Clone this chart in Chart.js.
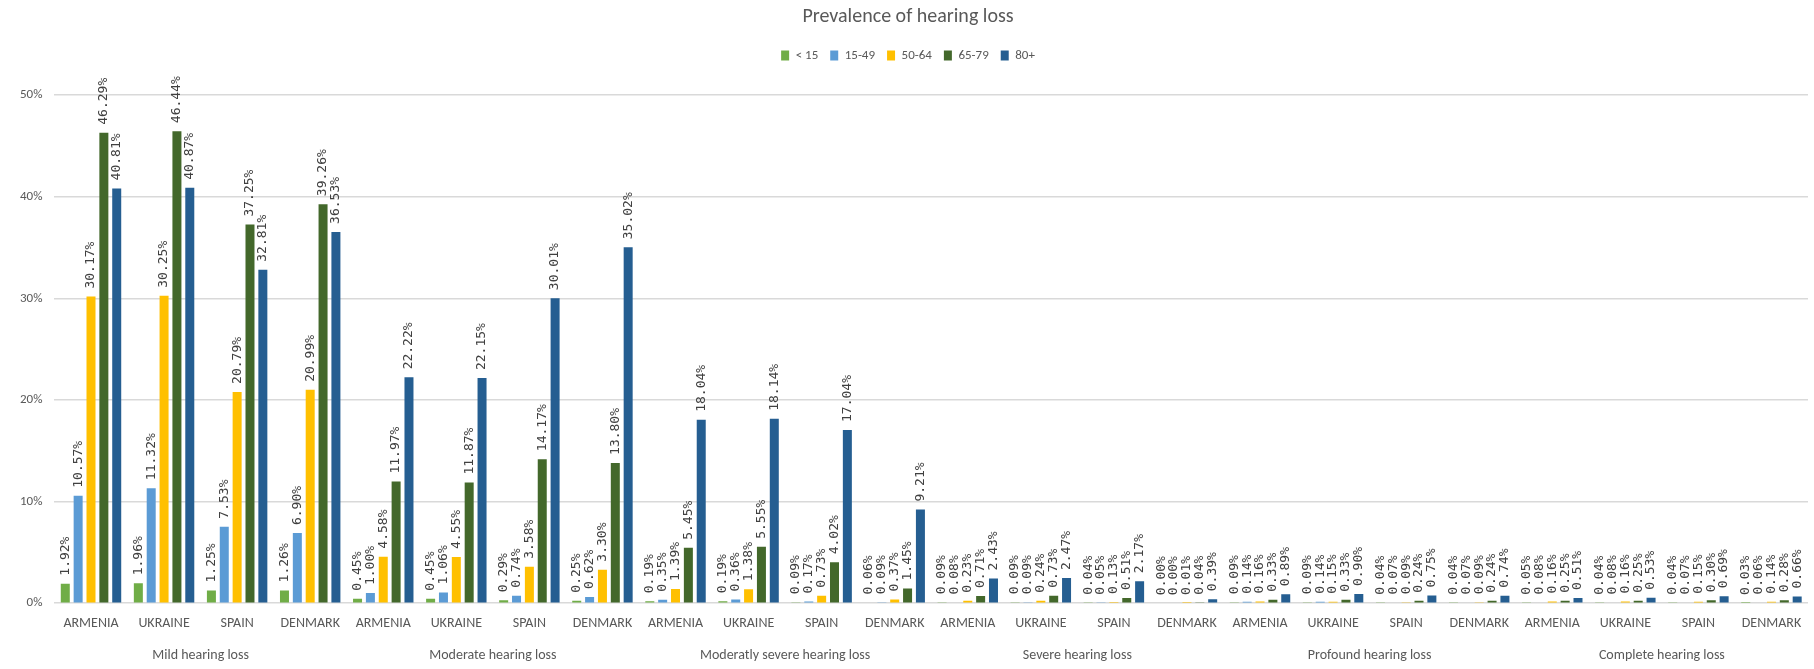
<!DOCTYPE html>
<html>
<head>
<meta charset="utf-8">
<title>Prevalence of hearing loss</title>
<script src="https://cdn.jsdelivr.net/npm/chart.js@4"></script>
<style>
  body { margin: 0; background: #fff; }
  #wrap { width: 1814px; height: 669px; position: relative; }
</style>
</head>
<body>
<div id="wrap"><canvas id="hearingChart"></canvas></div>
<script>
// categories
const countries = ['ARMENIA', 'UKRAINE', 'SPAIN', 'DENMARK'];
const lossGroups = ['Mild hearing loss', 'Moderate hearing loss', 'Moderatly severe hearing loss',
  'Severe hearing loss', 'Profound hearing loss', 'Complete hearing loss'];
const ageGroups = ['< 15', '15-49', '50-64', '65-79', '80+'];
const yTicks = [0, 10, 20, 30, 40, 50];

// values per age group, 24 each (group by group, Armenia/Ukraine/Spain/Denmark)
const under15 = [1.92, 1.96, 1.25, 1.26, 0.45, 0.45, 0.29, 0.25, 0.19, 0.19, 0.09, 0.06,
  0.09, 0.09, 0.04, 0.00, 0.09, 0.09, 0.04, 0.04, 0.05, 0.04, 0.04, 0.03];
const age15to49 = [10.57, 11.32, 7.53, 6.90, 1.00, 1.06, 0.74, 0.62, 0.35, 0.36, 0.17, 0.09,
  0.08, 0.09, 0.05, 0.00, 0.14, 0.14, 0.07, 0.07, 0.08, 0.08, 0.07, 0.06];
const age50to64 = [30.17, 30.25, 20.79, 20.99, 4.58, 4.55, 3.58, 3.30, 1.39, 1.38, 0.73, 0.37,
  0.23, 0.24, 0.13, 0.01, 0.16, 0.15, 0.09, 0.09, 0.16, 0.16, 0.15, 0.14];
const age65to79 = [46.29, 46.44, 37.25, 39.26, 11.97, 11.87, 14.17, 13.80, 5.45, 5.55, 4.02, 1.45,
  0.71, 0.73, 0.51, 0.04, 0.33, 0.33, 0.24, 0.24, 0.25, 0.25, 0.30, 0.28];
const age80plus = [40.81, 40.87, 32.81, 36.53, 22.22, 22.15, 30.01, 35.02, 18.04, 18.14, 17.04, 9.21,
  2.43, 2.47, 2.17, 0.39, 0.89, 0.90, 0.75, 0.74, 0.51, 0.53, 0.69, 0.66];

const seriesValues = [under15, age15to49, age50to64, age65to79, age80plus];
const seriesColors = ['#70AD47', '#5B9BD5', '#FFC000', '#43682B', '#255E91'];

const xLabels = [];
lossGroups.forEach(() => countries.forEach(c => xLabels.push(c)));

const labelFont = 'Carlito, "Liberation Sans Narrow", "Liberation Sans", sans-serif';

// value labels above each bar, rotated
const barLabels = {
  id: 'barLabels',
  afterDatasetsDraw(chart) {
    const ctx = chart.ctx;
    ctx.save();
    ctx.font = '13px "DejaVu Sans Mono", monospace';
    ctx.fillStyle = '#404040';
    ctx.textAlign = 'left';
    ctx.textBaseline = 'middle';
    chart.data.datasets.forEach((ds, i) => {
      chart.getDatasetMeta(i).data.forEach((bar, j) => {
        ctx.save();
        ctx.translate(bar.x, bar.y - 8);
        ctx.rotate(-Math.PI / 2);
        ctx.fillText(ds.data[j].toFixed(2) + '%', 0, 0);
        ctx.restore();
      });
    });
    ctx.restore();
  }
};

// second row of x labels: one per hearing-loss group, centred under its 4 countries
const groupLabels = {
  id: 'groupLabels',
  afterDraw(chart) {
    const x = chart.scales.x;
    const ctx = chart.ctx;
    const n = countries.length;
    ctx.save();
    ctx.font = '14px ' + labelFont;
    ctx.fillStyle = '#595959';
    ctx.textAlign = 'center';
    ctx.textBaseline = 'middle';
    lossGroups.forEach((g, k) => {
      const left = x.getPixelForTick(k * n);
      const right = x.getPixelForTick(k * n + n - 1);
      ctx.fillText(g, (left + right) / 2, chart.chartArea.bottom + 52);
    });
    ctx.restore();
  }
};

// a bit more room under the legend
const legendGap = {
  id: 'legendGap',
  beforeInit(chart) {
    const fit = chart.legend.fit;
    chart.legend.fit = function () {
      fit.bind(this)();
      this.height += 23;
    };
  }
};

const ctx = document.getElementById('hearingChart').getContext('2d');
new Chart(ctx, {
  type: 'bar',
  data: {
    labels: xLabels,
    datasets: ageGroups.map((name, i) => ({
      label: name,
      data: seriesValues[i],
      backgroundColor: seriesColors[i],
      categoryPercentage: 0.88,
      barPercentage: 0.7
    }))
  },
  options: {
    responsive: true,
    maintainAspectRatio: false,
    animation: false,
    layout: { padding: { left: 8, right: 6, top: 0, bottom: 25 } },
    plugins: {
      title: {
        display: true,
        text: 'Prevalence of hearing loss',
        color: '#595959',
        font: { family: labelFont, size: 20, weight: 'normal' },
        padding: { top: 5, bottom: 8 }
      },
      legend: {
        position: 'top',
        labels: {
          boxWidth: 8,
          boxHeight: 10,
          padding: 12,
          color: '#595959',
          font: { family: labelFont, size: 13 }
        }
      },
      tooltip: { enabled: false }
    },
    scales: {
      x: {
        grid: { display: false, drawTicks: false },
        border: { display: false },
        ticks: {
          color: '#595959',
          font: { family: labelFont, size: 14 },
          maxRotation: 0,
          autoSkip: false,
          padding: 12
        }
      },
      y: {
        min: yTicks[0],
        max: yTicks[yTicks.length - 1],
        border: { display: false },
        grid: { color: '#D9D9D9', lineWidth: 1.5, drawTicks: false },
        ticks: {
          stepSize: 10,
          padding: 12,
          color: '#595959',
          font: { family: labelFont, size: 13 },
          callback: v => v + '%'
        }
      }
    }
  },
  plugins: [barLabels, groupLabels, legendGap]
});
</script>
</body>
</html>
